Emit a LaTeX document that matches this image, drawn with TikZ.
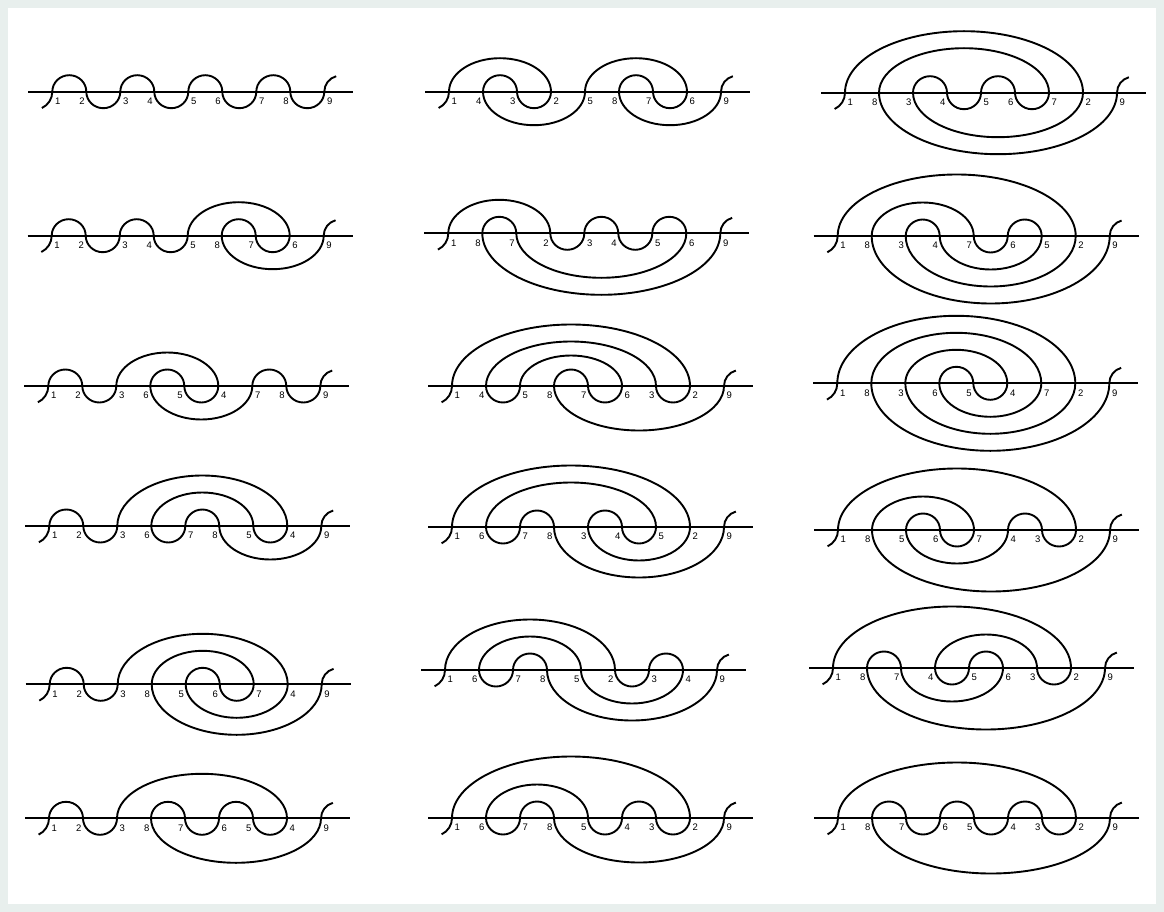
\documentclass[tikz,border=0pt]{standalone}
\usepackage{fontspec}
\setmainfont{Liberation Sans}
\definecolor{bgouter}{HTML}{E8EFED}
\tikzset{
  curve/.style={line width=1.9pt},
  axisline/.style={line width=1.9pt},
  lab/.style={font=\fontsize{9.5}{10}\selectfont, inner sep=0pt}
}
\def\dd{34}
% #1 x of first crossing, #2 y of line (px from top), #3 positions of crossings 1..9, #4 levels of arcs 1..8, #5 name prefix
\newcommand{\mdr}[5]{%
\begin{scope}[shift={(#1pt,-#2pt)}]
  \draw[axisline] (-24,0) coordinate (#5L) -- ({8*\dd+29},0) coordinate (#5R);
  \draw[curve] (-18,0) ++(-65:18pt) arc[start angle=-65,end angle=0,radius=18pt];
  \draw[curve] ({8*\dd},0) arc[start angle=180,end angle=105,radius=16pt];
  \foreach \k in {1,...,8}{
    \pgfmathtruncatemacro\pa{{#3}[\k-1]}
    \pgfmathtruncatemacro\pb{{#3}[\k]}
    \pgfmathsetmacro\lv{{#4}[\k-1]}
    \pgfmathsetmacro\xa{(min(\pa,\pb)-1)*\dd}
    \pgfmathsetmacro\rx{abs(\pb-\pa)*\dd/2}
    \pgfmathsetmacro\hh{5+5.5*abs(\pb-\pa)+6*\lv}
    \ifodd\k\relax\def\ea{0}\else\def\ea{360}\fi
    \draw[curve] (\xa,0) arc[start angle=180,end angle=\ea,x radius=\rx pt,y radius=\hh pt];
  }
  \foreach \k in {1,...,9}{
    \pgfmathtruncatemacro\pk{{#3}[\k-1]}
    \ifnum\k=1\relax\def\side{1}\else
      \ifodd\k\relax\pgfmathtruncatemacro\pp{{#3}[\k-2]}\else\pgfmathtruncatemacro\pp{{#3}[\k]}\fi
      \ifnum\pp<\pk\relax\def\side{1}\else\def\side{0}\fi
    \fi
    \ifnum\side=1\relax
      \node[lab,anchor=west] (#5n\k) at ({(\pk-1)*\dd+2.5},-9.5) {\k};
    \else
      \node[lab,anchor=east] (#5n\k) at ({(\pk-1)*\dd-1.5},-9.5) {\k};
    \fi
  }
\end{scope}}
\begin{document}
\begin{tikzpicture}[x=1pt,y=1pt]
\useasboundingbox (0,0) rectangle (1164,-912);
\fill[bgouter] (0,0) rectangle (1164,-912);
\fill[white] (8,-8) rectangle (1156,-904);
% column 1
\mdr{52.3}{91.7}{1,2,3,4,5,6,7,8,9}{1,1,1,1,1,1,1,1}{a}
\mdr{51.7}{235.7}{1,2,3,4,5,8,7,6,9}{1,1,1,1,2,1,1,2}{b}
\mdr{48.3}{386}{1,2,3,6,5,4,7,8,9}{1,1,2,1,1,2,1,1}{c}
\mdr{49.3}{526}{1,2,3,8,7,4,5,6,9}{1,1,3,1,2,1,1,2}{d}
\mdr{49.7}{684.3}{1,2,3,8,5,6,7,4,9}{1,1,3,2,1,1,2,3}{e}
\mdr{49}{818.3}{1,2,3,8,7,6,5,4,9}{1,1,2,1,1,1,1,2}{f}
% column 2
\mdr{449}{91.7}{1,4,3,2,5,8,7,6,9}{2,1,1,2,2,1,1,2}{g}
\mdr{448.3}{233.3}{1,4,5,6,7,8,3,2,9}{2,1,1,1,1,2,1,3}{h}
\mdr{452}{386}{1,8,7,2,3,6,5,4,9}{3,1,2,1,1.5,1,1,2}{i}
\mdr{452}{527}{1,8,5,6,7,2,3,4,9}{3,2,1,1,2,1,1,3}{j}
\mdr{445}{670}{1,6,7,8,5,2,3,4,9}{3,1,1,2,2,1,1,3}{k}
\mdr{452}{818}{1,8,7,6,5,2,3,4,9}{3,1,1,1,2,1,1,2}{l}
% column 3
\mdr{845}{92.7}{1,8,3,4,5,6,7,2,9}{3,2,1,1,1,1,2,3}{m}
\mdr{837.7}{236}{1,8,3,4,7,6,5,2,9}{3,3,1,2,1,1,2,4}{n}
\mdr{837.3}{383.3}{1,8,3,6,5,4,7,2,9}{4,3,2,1,1,2,3,4}{o}
\mdr{838}{530}{1,8,7,6,3,4,5,2,9}{3,1,1,2,1,1,2,3}{p}
\mdr{833}{668}{1,8,7,4,5,6,3,2,9}{3,1,2,1,1,2,1,3}{q}
\mdr{838}{818}{1,8,7,6,5,4,3,2,9}{2,1,1,1,1,1,1,2}{r}
\end{tikzpicture}
\end{document}
